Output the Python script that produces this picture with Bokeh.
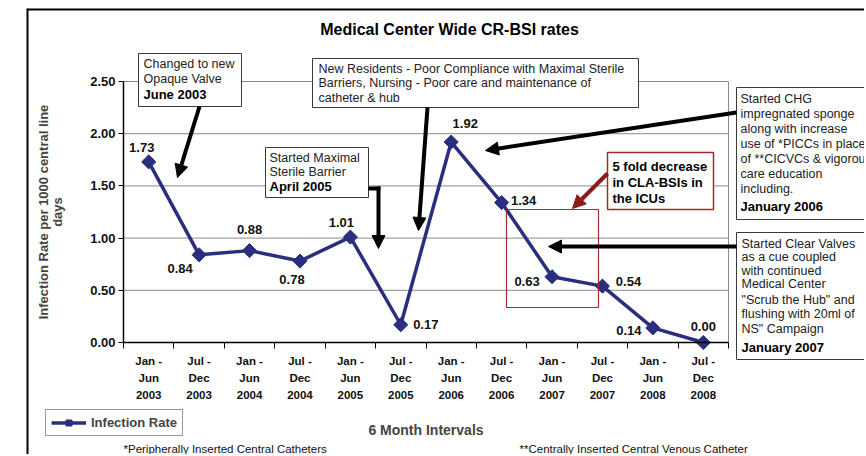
import math
from bokeh.plotting import figure
from bokeh.models import (Range1d, FixedTicker, Label, BoxAnnotation, Arrow, NormalHead,
                          Legend, LegendItem, PrintfTickFormatter)
from bokeh.embed import file_html
from bokeh.resources import INLINE

# ---------------- data ----------------
periods = ["Jan -\nJun\n2003", "Jul -\nDec\n2003", "Jan -\nJun\n2004", "Jul -\nDec\n2004",
           "Jan -\nJun\n2005", "Jul -\nDec\n2005", "Jan -\nJun\n2006", "Jul -\nDec\n2006",
           "Jan -\nJun\n2007", "Jul -\nDec\n2007", "Jan -\nJun\n2008", "Jul -\nDec\n2008"]
rates = [1.73, 0.84, 0.88, 0.78, 1.01, 0.17, 1.92, 1.34, 0.63, 0.54, 0.14, 0.00]
y_ticks = [0.0, 0.5, 1.0, 1.5, 2.0, 2.5]

# label offsets in screen px (dx, dy downward) -- styling only
label_offsets = [(-7, -14), (-19, 14), (0, -21), (-8, 18), (-9, -15), (25, 0),
                 (14, -19), (22, -2), (-25, 5), (26, -5), (-24, 3), (0, -16)]

NAVY = "#2B2E7E"
GRID = "#8a8a8a"
FONT = "Liberation Sans"
W, H = 864, 454

n = len(rates)
xs = [i + 0.5 for i in range(n)]
ymax = y_ticks[-1]

# plot area in picture pixels: x 123..728, y 81..342
SX = 605 / n
SY = 261 / ymax
def X(px):
    return (px - 123) / SX
def Y(py):
    return (342 - py) / SY

p = figure(width=W, height=H, min_border=0,
           x_range=Range1d(X(0), X(W)), y_range=Range1d(Y(H), Y(0)),
           output_backend="svg", toolbar_location=None)
p.background_fill_color = "white"
p.border_fill_color = "white"
p.outline_line_color = None
p.xgrid.visible = False
p.ygrid.visible = False

# axes drawn at fixed data locations
p.xaxis.fixed_location = 0
p.xaxis.bounds = (0, n)
p.xaxis.ticker = FixedTicker(ticks=xs, minor_ticks=list(range(n + 1)))
p.xaxis.major_label_overrides = {x: lab for x, lab in zip(xs, periods)}
p.xaxis.major_tick_line_color = None
p.xaxis.major_tick_out = 0
p.xaxis.major_tick_in = 0
p.xaxis.minor_tick_line_color = "black"
p.xaxis.minor_tick_out = 6
p.xaxis.minor_tick_in = 0
p.xaxis.major_label_standoff = 6
p.xaxis.major_label_text_font = FONT
p.xaxis.major_label_text_font_style = "bold"
p.xaxis.major_label_text_font_size = "11.5px"
p.xaxis.major_label_text_line_height = 1.45
p.xaxis.major_label_text_color = "#111111"
p.xaxis.axis_line_color = "black"
p.xaxis.axis_line_width = 1.5
p.xaxis.axis_label = "6 Month Intervals"
p.xaxis.axis_label_text_font = FONT
p.xaxis.axis_label_text_font_style = "bold"
p.xaxis.axis_label_text_font_size = "14px"
p.xaxis.axis_label_standoff = 18

p.yaxis.fixed_location = 0
p.yaxis.bounds = (0, ymax)
p.yaxis.ticker = FixedTicker(ticks=y_ticks)
p.yaxis.formatter = PrintfTickFormatter(format="%.2f")
p.yaxis.major_tick_out = 5
p.yaxis.major_tick_in = 0
p.yaxis.minor_tick_line_color = None
p.yaxis.major_label_standoff = 3
p.yaxis.major_label_text_font = FONT
p.yaxis.major_label_text_font_style = "bold"
p.yaxis.major_label_text_font_size = "13px"
p.yaxis.major_label_text_color = "#111111"
p.yaxis.axis_line_color = "black"
p.yaxis.axis_line_width = 1.5
p.yaxis.axis_label = "Infection Rate per 1000 central line\ndays"
p.yaxis.axis_label_text_font = FONT
p.yaxis.axis_label_text_font_style = "bold"
p.yaxis.axis_label_text_font_size = "13px"
p.yaxis.axis_label_text_line_height = 0.92
p.yaxis.axis_label_standoff = 22

# horizontal grid lines and right border of the plot area
gy = [t for t in y_ticks if t > 0]
p.segment(x0=[0] * len(gy), x1=[n] * len(gy), y0=gy, y1=gy, line_color=GRID, line_width=1)
p.segment(x0=[n], x1=[n], y0=[0], y1=[ymax], line_color=GRID, line_width=1)

# series
line_r = p.line(xs, rates, line_color=NAVY, line_width=3.5)
pts_r = p.scatter(xs, rates, marker="square", angle=math.pi / 4, size=10,
                  fill_color=NAVY, line_color=NAVY)

# data labels
for x, v, (dx, dy) in zip(xs, rates, label_offsets):
    p.add_layout(Label(x=x, y=v, text=f"{v:.2f}", x_offset=dx, y_offset=-dy,
                       text_align="center", text_baseline="middle",
                       text_font=FONT, text_font_style="bold", text_font_size="13px",
                       text_color="#111111"))

def box(l, t, r, b, color="#3a3a3a", fill="white", width=1.0):
    p.add_layout(BoxAnnotation(left=X(l), right=X(r), top=Y(t), bottom=Y(b),
                               fill_color=fill if fill else "white",
                               fill_alpha=1.0 if fill else 0.0,
                               line_color=color, line_width=width, line_alpha=1.0))

def text(px, py, s, size="12.5px", bold=False, color="#222222", align="left"):
    p.add_layout(Label(x=X(px), y=Y(py), text=s, text_align=align, text_baseline="middle",
                       text_font=FONT, text_font_size=size,
                       text_font_style="bold" if bold else "normal", text_color=color))

def arrow(x0, y0, x1, y1, color="black", width=4, head=True):
    end = NormalHead(size=13, fill_color=color, line_color=color, line_width=1) if head else None
    p.add_layout(Arrow(x_start=X(x0), y_start=Y(y0), x_end=X(x1), y_end=Y(y1),
                       line_color=color, line_width=width, end=end))

# outer frame lines
arrow(27, 9, 870, 9, width=2, head=False)
arrow(27, 8, 27, 470, width=2, head=False)

# title
text(449, 29, "Medical Center Wide CR-BSI rates", size="16px", bold=True, color="#000000", align="center")

# box 1
box(138, 53, 241, 106)
text(143, 63, "Changed to new")
text(143, 78, "Opaque Valve")
text(143, 94, "June 2003", size="13px", bold=True, color="#000000")
arrow(199, 106, 177, 177)

# box 2
box(312, 58, 638, 107)
text(318, 68, "New Residents - Poor Compliance with Maximal Sterile")
text(318, 82, "Barriers, Nursing - Poor care and maintenance of")
text(318, 97, "catheter & hub")
arrow(427, 107, 418, 230)

# box 3
box(265, 147, 368, 197)
text(269, 157, "Started Maximal")
text(269, 171, "Sterile Barrier")
text(269, 186, "April 2005", size="13px", bold=True, color="#000000")
arrow(368, 188, 380, 188, head=False)
arrow(378, 186, 378, 248)

# box 4
box(736, 87, 880, 219)
for i, s in enumerate(["Started CHG", "impregnated sponge", "along with increase",
                       "use of *PICCs in place", "of **CICVCs & vigorous",
                       "care education", "including."]):
    text(740, 98 + 15 * i, s)
text(740, 206, "January  2006", size="13px", bold=True, color="#000000")
arrow(736, 112, 485, 150)

# red box
box(607, 152, 713, 209, color="#9B2F2F", width=1.5)
text(612, 166, "5 fold decrease", size="13px", bold=True, color="#000000")
text(612, 182, "in CLA-BSIs in", size="13px", bold=True, color="#000000")
text(612, 198, "the ICUs", size="13px", bold=True, color="#000000")
arrow(607, 173, 572, 208, color="#8B1C1C")
box(506, 209, 598, 307, color="#A03030", fill=None, width=1.2)

# box 7
box(736, 232, 865, 359)
for s, yy in zip(["Started Clear Valves", "as a cue coupled", "with continued",
                  "Medical Center", "\"Scrub the Hub\" and", "flushing with 20ml of",
                  "NS\" Campaign"], [243, 256, 270, 283, 299, 313, 328]):
    text(741, yy, s)
text(741, 347, "January 2007", size="13px", bold=True, color="#000000")
arrow(736, 246, 548, 246)

# footnotes
text(123, 448, "*Peripherally Inserted Central Catheters", size="11.5px", color="#111111")
text(519, 448, "**Centrally Inserted Central Venous Catheter", size="11.5px", color="#111111")

# legend
legend = Legend(items=[LegendItem(label="Infection Rate", renderers=[line_r, pts_r])],
                location=(45, H - 436), border_line_color="#333333", border_line_width=1,
                background_fill_color="white", background_fill_alpha=1.0,
                label_text_font=FONT, label_text_font_style="bold", label_text_font_size="13px",
                glyph_width=35, glyph_height=15, padding=5, margin=0, label_standoff=5,
                spacing=0, label_height=15)
p.add_layout(legend)

open("out.html", "w").write(file_html(p, INLINE))
